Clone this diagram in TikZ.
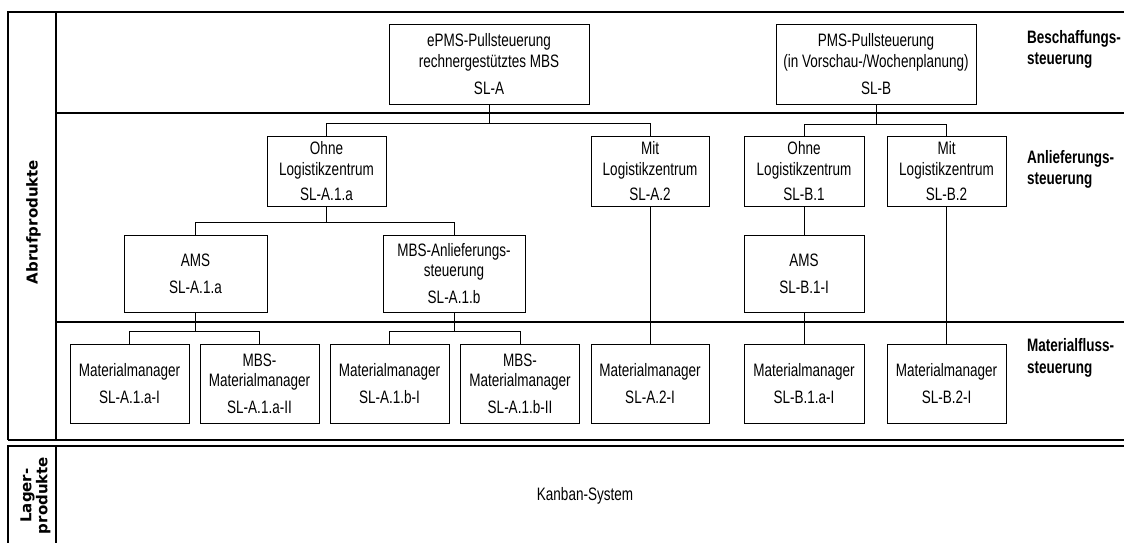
\documentclass[tikz,border=0pt]{standalone}
\usepackage{fontspec}
\setmainfont{Liberation Sans}[FakeStretch=0.75]
\newfontfamily\sidefont{DejaVu Sans}
\newcommand\boxfont{\fontsize{18}{20.7}\selectfont}
\newcommand\bandfont{\fontsize{18}{21.5}\selectfont\bfseries}
\newcommand\rowfont{\sidefont\fontsize{15}{16}\selectfont\bfseries}
\tikzset{
  box/.style={draw, line width=1pt, align=center, inner sep=0pt, font=\boxfont},
  wire/.style={line width=1pt},
  frame/.style={line width=1.4pt},
  divider/.style={line width=2pt},
  bandlabel/.style={anchor=north west, align=left, inner sep=0pt, font=\bandfont},
  rowlabel/.style={rotate=90, align=center, inner sep=0pt, font=\rowfont},
}
\begin{document}
\begin{tikzpicture}[x=1pt, y=-1pt]
\useasboundingbox (0,0) rectangle (1124,542);
\clip (0,0) rectangle (1124,542);

% frames of the two product groups
\draw[frame] (1130,12) -- (8,12) -- (8,440);
\draw[divider] (8,440) -- (1130,440);
\draw[divider] (56,12) -- (56,440);
\draw[divider] (56,113) -- (1130,113);
\draw[divider] (56,321.7) -- (1130,321.7);
\draw[frame] (1130,446) -- (8,446) -- (8,550);
\draw[line width=1.8pt] (56,446) -- (56,550);

% row labels
\node[rowlabel] (abruf) at (33.5,222) {Abrufprodukte};
\node[rowlabel] (lager) at (35.5,495.5) {Lager-\\produkte};

% band labels
\node[bandlabel] (besch) at (1027,30) {Beschaffungs-\\steuerung};
\node[bandlabel] (anl) at (1027,150) {Anlieferungs-\\steuerung};
\node[bandlabel] (mat) at (1027,338.5) {Materialfluss-\\steuerung};

% procurement level
\node[box, minimum width=200pt, minimum height=80pt] (SLA) at (489,64)
  {ePMS-Pullsteuerung\\rechnergestütztes MBS\\[6pt]SL-A};
\node[box, minimum width=200pt, minimum height=80pt] (SLB) at (876,64)
  {PMS-Pullsteuerung\\(in Vorschau-/Wochenplanung)\\[6pt]SL-B};

% delivery level
\node[box, minimum width=119pt, minimum height=70pt] (SLA1) at (326.5,171)
  {Ohne\\Logistikzentrum\\[4pt]SL-A.1.a};
\node[box, minimum width=118pt, minimum height=70pt] (SLA2) at (650,171)
  {Mit\\Logistikzentrum\\[4pt]SL-A.2};
\node[box, minimum width=120pt, minimum height=70pt] (SLB1) at (804,171)
  {Ohne\\Logistikzentrum\\[4pt]SL-B.1};
\node[box, minimum width=119pt, minimum height=70pt] (SLB2) at (946.5,171)
  {Mit\\Logistikzentrum\\[4pt]SL-B.2};

\node[box, minimum width=143pt, minimum height=77pt] (AMSA) at (195.5,273.5)
  {AMS\\[6pt]SL-A.1.a};
\node[box, minimum width=142pt, minimum height=77pt] (MBSA) at (454,273.5)
  {MBS-Anlieferungs-\\steuerung\\[6pt]SL-A.1.b};
\node[box, minimum width=120pt, minimum height=77pt] (AMSB) at (804,273.5)
  {AMS\\[6pt]SL-B.1-I};

% material flow level
\node[box, minimum width=119pt, minimum height=79pt] (MM1) at (129.5,383.7)
  {Materialmanager\\[6pt]SL-A.1.a-I};
\node[box, minimum width=119pt, minimum height=79pt] (MM2) at (259.5,383.7)
  {MBS-\\Materialmanager\\[6pt]SL-A.1.a-II};
\node[box, minimum width=119pt, minimum height=79pt] (MM3) at (389.5,383.7)
  {Materialmanager\\[6pt]SL-A.1.b-I};
\node[box, minimum width=119pt, minimum height=79pt] (MM4) at (520,383.7)
  {MBS-\\Materialmanager\\[6pt]SL-A.1.b-II};
\node[box, minimum width=118pt, minimum height=79pt] (MM5) at (650,383.7)
  {Materialmanager\\[6pt]SL-A.2-I};
\node[box, minimum width=120pt, minimum height=79pt] (MM6) at (804,383.7)
  {Materialmanager\\[6pt]SL-B.1.a-I};
\node[box, minimum width=119pt, minimum height=79pt] (MM7) at (946.5,383.7)
  {Materialmanager\\[6pt]SL-B.2-I};

% stock products
\node[font=\boxfont, inner sep=0pt] (kanban) at (585,496) {Kanban-System};

% connectors
\coordinate (busA) at (0,123);
\coordinate (busB) at (0,124);
\coordinate (busA1) at (0,222.7);
\coordinate (busMM) at (0,331);
\draw[wire] (SLA.south) -- (SLA.south |- busA) -| (SLA1.north);
\draw[wire] (SLA.south |- busA) -| (SLA2.north);
\draw[wire] (SLB.south) -- (SLB.south |- busB) -| (SLB1.north);
\draw[wire] (SLB.south |- busB) -| (SLB2.north);
\draw[wire] (SLA1.south) -- (SLA1.south |- busA1) -| (AMSA.north);
\draw[wire] (SLA1.south |- busA1) -| (MBSA.north);
\draw[wire] (AMSA.south) -- (AMSA.south |- busMM) -| (MM1.north);
\draw[wire] (AMSA.south |- busMM) -| (MM2.north);
\draw[wire] (MBSA.south) -- (MBSA.south |- busMM) -| (MM3.north);
\draw[wire] (MBSA.south |- busMM) -| (MM4.north);
\draw[wire] (SLA2.south) -- (MM5.north);
\draw[wire] (SLB1.south) -- (AMSB.north);
\draw[wire] (AMSB.south) -- (MM6.north);
\draw[wire] (SLB2.south) -- (MM7.north);
\end{tikzpicture}
\end{document}
